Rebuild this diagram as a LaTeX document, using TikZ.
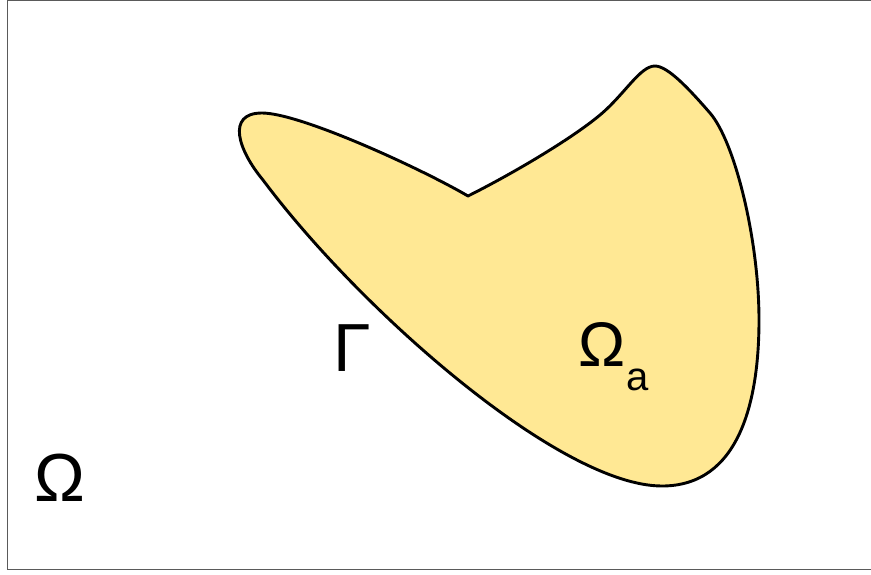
\documentclass[tikz,border=0pt]{standalone}
\usepackage{fontspec}
\setmainfont{Liberation Sans}
\definecolor{regionfill}{HTML}{FFE894}
\definecolor{framegray}{HTML}{5A5A5A}
\tikzset{
  lbl/.style={inner sep=0pt, text=black},
  big/.style={lbl, font=\fontsize{68}{80}\selectfont},
  mid/.style={lbl, font=\fontsize{63}{74}\selectfont},
  sub/.style={lbl, font=\fontsize{40}{48}\selectfont},
  region/.style={fill=regionfill, draw=black, line width=2.9pt, line join=round},
  frame/.style={draw=framegray, line width=1.6pt}
}
\begin{document}
\begin{tikzpicture}[x=1pt,y=-1pt]
\useasboundingbox (0,0) rectangle (871,574);
\draw[frame] (7.6,0.6) rectangle (880,569.4);
\coordinate (notch) at (468,196);
\draw[region] (notch)
  .. controls (510,175) and (570,140) .. (600,115)
  .. controls (625,94) and (640,66) .. (655,66)
  .. controls (668,66) and (690,90) .. (710,113)
  .. controls (735,142) and (759,240) .. (759,320)
  .. controls (759,400) and (740,486) .. (662,486)
  .. controls (560,486) and (360,310) .. (263,180)
  .. controls (238,150) and (226,113) .. (262,113)
  .. controls (300,113) and (420,168) .. (notch)
  -- cycle;
\node[big] (omega) at (59.5,477.5) {Ω};
\node[big] (gamma) at (352.5,348) {Γ};
\node[mid] (omegaa) at (602,344) {Ω};
\node[sub] (suba) at (638,380) {a};
\end{tikzpicture}
\end{document}
